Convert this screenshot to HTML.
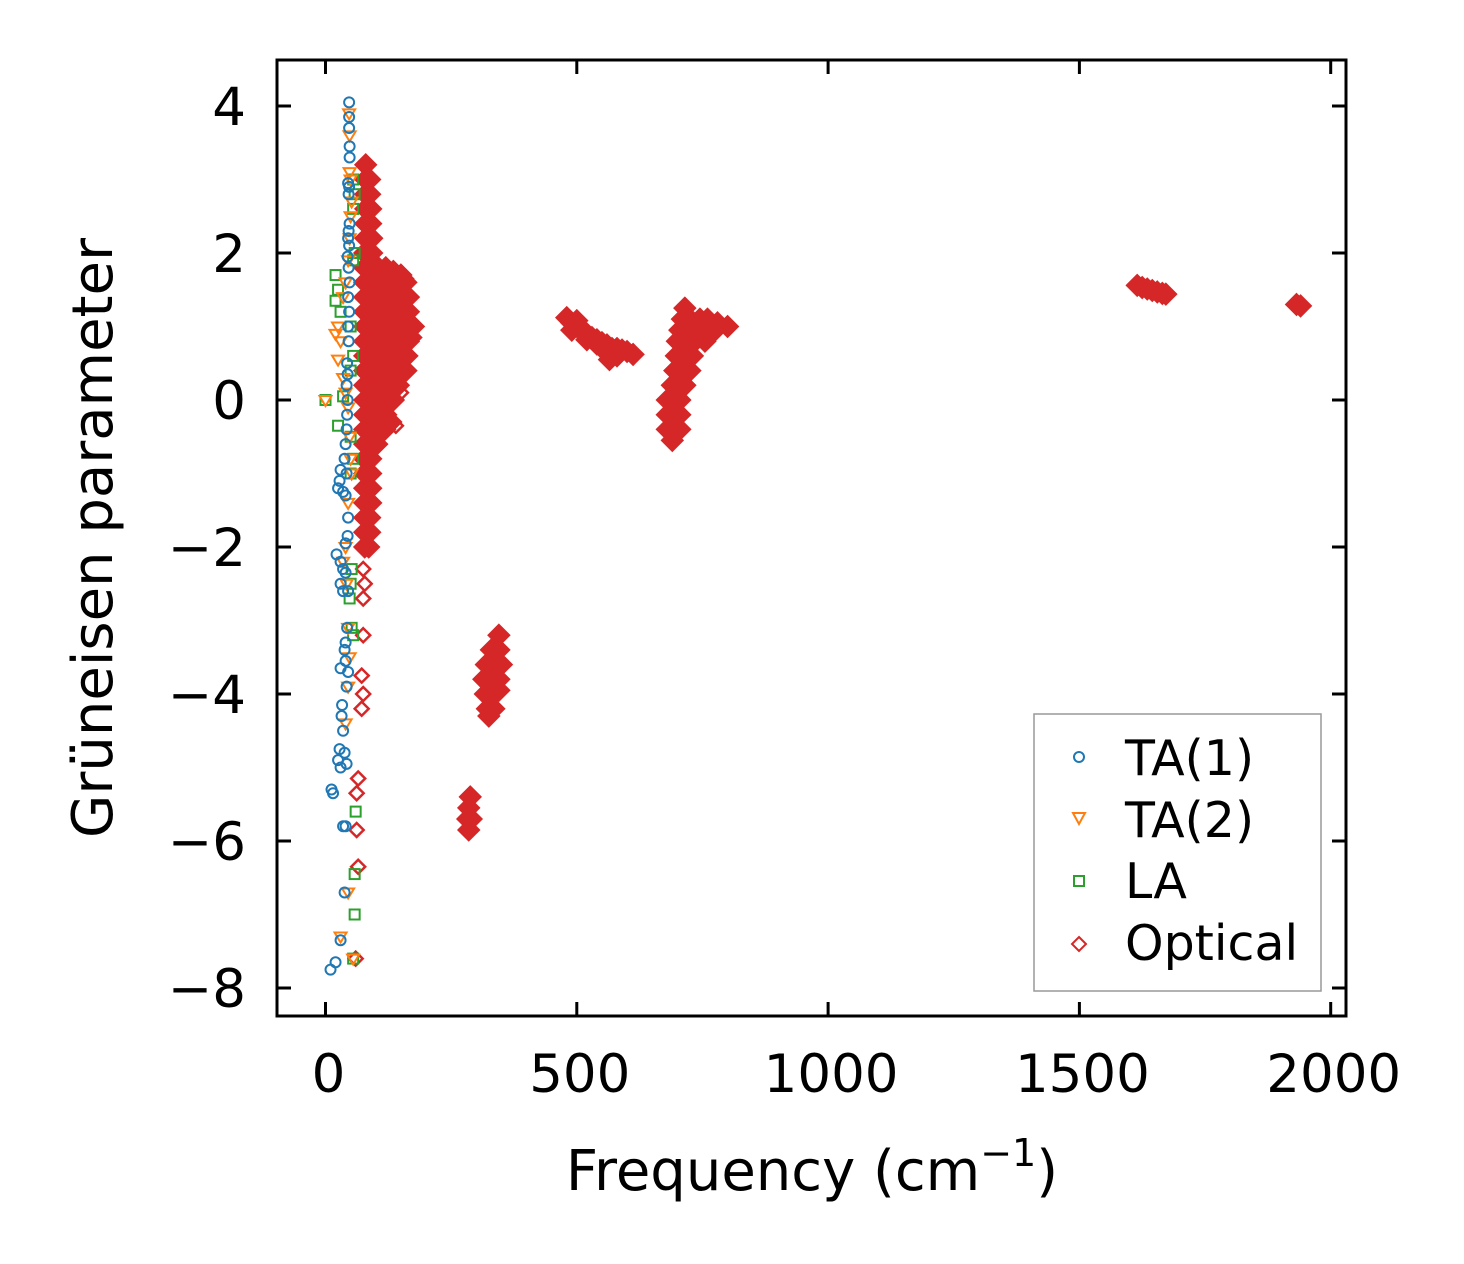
<!DOCTYPE html>
<html><head><meta charset="utf-8"><style>
body{margin:0;background:#fff;}
svg{display:block;font-family:"DejaVu Sans","Liberation Sans",sans-serif;}
</style></head><body>
<svg id="chart" width="1464" height="1264">
<g id="marks"></g>
<rect x="277" y="60" width="1069" height="956" fill="none" stroke="#000" stroke-width="3"/>
<g id="axes"></g>
<text x="812" y="1190" text-anchor="middle" font-size="56">Frequency (cm<tspan font-size="38" dy="-24">−1</tspan><tspan dy="24">)</tspan></text>
<text transform="translate(112,538) rotate(-90)" text-anchor="middle" font-size="56">Grüneisen parameter</text>
<g>
<rect x="1034" y="714" width="287" height="277" fill="#fff" stroke="#999" stroke-width="1.5"/>
<circle cx="1079" cy="757" r="5" fill="none" stroke="#1f77b4" stroke-width="2"/>
<text x="1125" y="775" font-size="49">TA(1)</text>
<path d="M1073,813 L1085,813 L1079,824 Z" fill="none" stroke="#ff7f0e" stroke-width="2"/>
<text x="1125" y="837" font-size="49">TA(2)</text>
<rect x="1074" y="876" width="10" height="10" fill="none" stroke="#2ca02c" stroke-width="2"/>
<text x="1125" y="898" font-size="49">LA</text>
<path d="M1079,937 L1086,944 L1079,951 L1072,944 Z" fill="none" stroke="#d62728" stroke-width="2"/>
<text x="1125" y="960" font-size="49">Optical</text>
</g>
</svg>
<script>
const xTicks=[0,500,1000,1500,2000];
const yTicks=[4,2,0,-2,-4,-6,-8];
const ta1F=[47,47,47,48,48,45,47,46,48,46,45,47,44,46,48,45,47,45,46,43,44,42,44,43,42,40,38,30,28,25,35,42,40,45,44,40,22,30,35,40,30,35,45,43,40,38,40,30,45,42,33,32,35,28,38,25,30,42,12,15,35,40,38,30,20,10];
const ta1G=[4.05,3.85,3.7,3.45,3.3,2.95,2.9,2.8,2.4,2.3,2.2,2.1,1.95,1.8,1.6,1.4,1.2,1.0,0.8,0.5,0.35,0.2,0.0,-0.2,-0.4,-0.6,-0.8,-0.95,-1.1,-1.2,-1.25,-1.0,-1.3,-1.6,-1.85,-1.95,-2.1,-2.2,-2.3,-2.35,-2.5,-2.6,-2.6,-3.1,-3.3,-3.4,-3.55,-3.65,-3.7,-3.9,-4.15,-4.3,-4.5,-4.75,-4.8,-4.9,-5.0,-4.95,-5.3,-5.35,-5.8,-5.8,-6.7,-7.35,-7.65,-7.75];
const ta2F=[47,48,48,50,52,50,48,45,40,35,25,20,30,25,35,40,45,48,50,52,45,40,35,42,45,48,45,40,45,55,30,0];
const ta2G=[3.9,3.6,3.1,3.0,2.7,2.5,2.2,1.9,1.6,1.4,1.0,0.9,0.8,0.55,0.3,0.1,-0.1,-0.5,-0.8,-1.0,-1.4,-2.0,-2.2,-2.5,-3.1,-3.5,-3.9,-4.4,-6.7,-7.6,-7.3,0];
const laF=[55,58,55,58,55,20,25,20,30,50,55,50,35,25,50,55,50,52,50,48,52,55,60,58,58,55,0];
const laG=[3.0,2.8,2.6,2.0,1.9,1.7,1.5,1.35,1.2,1.0,0.6,0.4,0.05,-0.35,-0.5,-0.8,-1.0,-2.3,-2.5,-2.7,-3.1,-3.2,-5.6,-6.45,-7.0,-7.6,0];
// optical clusters as [frequency, gamma] pairs
const optMain=[[80,3.2],[80,3.0],[88,3.0],[80,2.8],[88,2.8],[80,2.6],[90,2.6],[80,2.4],[90,2.4],[80,2.2],[92,2.2],[78,2.0],[92,2.0],
[78,1.8],[92,1.8],[105,1.8],[120,1.8],[135,1.75],[150,1.7],
[78,1.6],[92,1.6],[105,1.6],[120,1.6],[135,1.6],[150,1.6],[160,1.6],
[78,1.4],[92,1.4],[105,1.4],[120,1.4],[135,1.4],[150,1.4],[165,1.4],
[78,1.2],[92,1.2],[105,1.2],[120,1.2],[135,1.2],[150,1.2],[165,1.2],
[78,1.0],[92,1.0],[105,1.0],[120,1.0],[135,1.0],[150,1.0],[165,1.0],[175,1.0],
[78,0.8],[92,0.8],[105,0.8],[120,0.8],[135,0.8],[150,0.8],[165,0.8],[170,0.85],
[78,0.6],[92,0.6],[105,0.6],[120,0.6],[135,0.6],[150,0.6],[162,0.6],
[78,0.4],[92,0.4],[105,0.4],[120,0.4],[135,0.4],[150,0.4],[160,0.4],
[78,0.2],[92,0.2],[105,0.2],[120,0.2],[135,0.2],[145,0.2],
[78,0.0],[92,0.0],[105,0.0],[120,0.0],[135,0.0],
[78,-0.2],[92,-0.2],[105,-0.2],[120,-0.2],[130,-0.3],
[78,-0.4],[92,-0.4],[105,-0.4],[118,-0.4],
[78,-0.6],[92,-0.6],[102,-0.6],
[78,-0.8],[90,-0.8],[78,-1.0],[90,-1.0],[78,-1.2],[90,-1.2],[78,-1.4],[90,-1.4],
[78,-1.6],[88,-1.6],[78,-1.8],[88,-1.8],[78,-2.0],[86,-2.0]];
const optOut=[[75,-2.3],[78,-2.5],[75,-2.7],[75,-3.2],[72,-3.75],[75,-4.0],[72,-4.2],[65,-5.15],[62,-5.35],[62,-5.85],[65,-6.35],[60,-7.6],[160,1.65],[150,0.1],[140,-0.35]];
const opt330=[[345,-3.2],[330,-3.4],[345,-3.4],[320,-3.6],[335,-3.6],[350,-3.6],[315,-3.8],[330,-3.8],[345,-3.8],[318,-4.0],[333,-4.0],[345,-3.95],[322,-4.2],[335,-4.2],[325,-4.3]];
const opt285=[[288,-5.4],[285,-5.55],[283,-5.7],[290,-5.7],[285,-5.85]];
const opt500=[[480,1.12],[490,1.05],[500,1.0],[510,0.95],[520,0.9],[530,0.85],[540,0.82],[550,0.78],[560,0.75],[570,0.7],[580,0.7],[590,0.68],[600,0.66],[612,0.62],[520,0.82],[540,0.76],[560,0.64],[565,0.55],[580,0.6],[500,1.08],[490,0.95]];
const opt700=[[715,1.25],[710,1.1],[725,1.1],[745,1.1],[760,1.1],[780,1.05],[800,1.0],[705,0.95],[720,0.95],[740,0.95],[760,0.95],[775,0.95],
[700,0.8],[715,0.8],[735,0.8],[755,0.8],[698,0.6],[712,0.6],[730,0.6],[695,0.4],[710,0.4],[725,0.4],[690,0.2],[705,0.2],[715,0.2],
[680,0.0],[695,0.0],[705,0.0],[680,-0.2],[695,-0.2],[705,-0.2],[680,-0.4],[695,-0.4],[705,-0.4],[690,-0.55]];
const opt1600=[[1615,1.56],[1625,1.53],[1635,1.51],[1645,1.49],[1655,1.47],[1665,1.45],[1672,1.44]];
const opt1930=[[1932,1.3],[1940,1.28]];
const X0=325.5,XS=251.3/500,Y0=400,YS=73.5;
function xs(v){return X0+v*XS;}
function ys(v){return Y0-v*YS;}
const NS='http://www.w3.org/2000/svg';
const axes=document.getElementById('axes'),marks=document.getElementById('marks');
function mk(tag,attrs,parent){const e=document.createElementNS(NS,tag);for(const k in attrs)e.setAttribute(k,attrs[k]);parent.appendChild(e);return e;}
xTicks.forEach(t=>{const x=xs(t);
 let l=mk('line',{x1:x,x2:x,y1:1016,y2:1002,stroke:'#000','stroke-width':3},axes);
 
 
 l=mk('line',{x1:x,x2:x,y1:60,y2:74,stroke:'#000','stroke-width':3},axes);
 
 
 const tx=mk('text',{x:x+3,y:1092,'text-anchor':'middle','font-size':53},axes);tx.textContent=t;
 
 
});
yTicks.forEach(t=>{const y=ys(t);
 let l=mk('line',{x1:277,x2:291,y1:y,y2:y,stroke:'#000','stroke-width':3},axes);
 
 
 l=mk('line',{x1:1332,x2:1346,y1:y,y2:y,stroke:'#000','stroke-width':3},axes);
 
 
 const tx=mk('text',{x:246,y:y+19,'text-anchor':'end','font-size':53},axes);tx.textContent=t<0?'−'+(-t):t;
 
 
});
function diamond(pt,filled,h){const x=xs(pt[0]),y=ys(pt[1]);
 const p=mk('path',{d:`M${x},${y-h} L${x+h},${y} L${x},${y+h} L${x-h},${y} Z`,fill:filled?'#d62728':'#fff',stroke:'#d62728','stroke-width':2.5},marks);
 
 
}
optOut.forEach(p=>diamond(p,false,7));
[optMain,opt330,opt285,opt500,opt700,opt1600,opt1930].forEach(arr=>arr.forEach(p=>diamond(p,true,10)));
laF.forEach((f,i)=>{const x=xs(f),y=ys(laG[i]);
 const p=mk('rect',{x:x-5,y:y-5,width:10,height:10,fill:'none',stroke:'#2ca02c','stroke-width':2},marks);
 
 
});
ta2F.forEach((f,i)=>{const x=xs(f),y=ys(ta2G[i]);
 const p=mk('path',{d:`M${x-6},${y-4} L${x+6},${y-4} L${x},${y+6} Z`,fill:'none',stroke:'#ff7f0e','stroke-width':2},marks);
 
 
});
ta1F.forEach((f,i)=>{const x=xs(f),y=ys(ta1G[i]);
 const p=mk('circle',{cx:x,cy:y,r:5,fill:'none',stroke:'#1f77b4','stroke-width':2},marks);
 
 
});
</script>
</body></html>
